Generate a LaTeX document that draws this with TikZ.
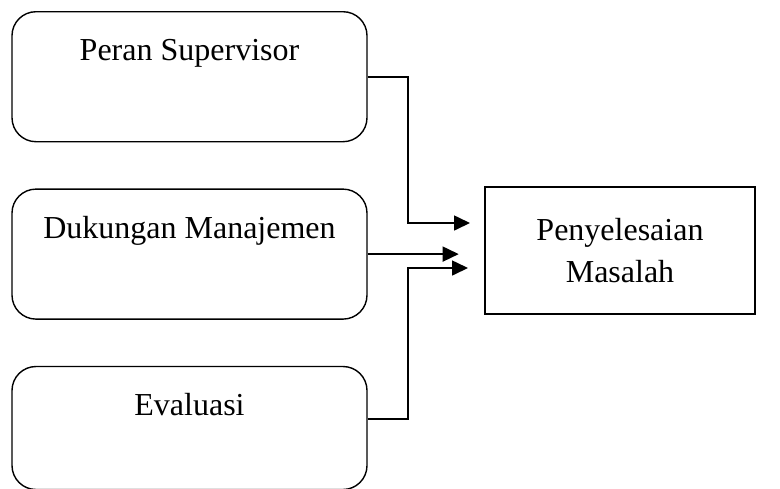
\documentclass[tikz,border=0pt]{standalone}
\usepackage{fontspec}
\setmainfont{Liberation Serif}
\usetikzlibrary{arrows.meta,positioning}

\begin{document}
\begin{tikzpicture}[
    x=0.5pt, y=-0.5pt,
    node distance=23pt and 20pt, % gap between the factor boxes
    factor/.style={rectangle, draw, rounded corners=12pt, line width=0.7pt, minimum width=177.5pt, inner ysep=0pt, text height=24.5pt, text depth=40.5pt, font=\fontsize{16}{21}\selectfont},
    result/.style={rectangle, draw, line width=0.7pt, minimum width=135pt, minimum height=63.5pt, align=center, font=\fontsize{16}{21}\selectfont},
    link/.style={-{Triangle[length=8pt,width=7.5pt]}, line width=0.8pt}
]
    \useasboundingbox (0,0) rectangle (780,488);

    % Nodes
    \node[factor, anchor=north] (sup) at (189.5,11) {Peran Supervisor};
    \node[factor, below=of sup] (man) {Dukungan Manajemen};
    \node[factor, below=of man, text depth=37pt] (eva) {Evaluasi};
    \node[result] (res) at (620,250.5) {Penyelesaian\\Masalah};

    % Arrow ends
    \coordinate (in1) at (470,223);
    \coordinate (in2) at ([xshift=45.5pt]man.east);
    \coordinate (in3) at (468,268);

    % Connections
    \draw [link] (sup.east) -- ++(40,0) |- (in1);
    \draw [link] (man.east) -- (in2);
    \draw [link] ([yshift=4.5pt]eva.east) -- ++(40,0) |- (in3);
\end{tikzpicture}
\end{document}
